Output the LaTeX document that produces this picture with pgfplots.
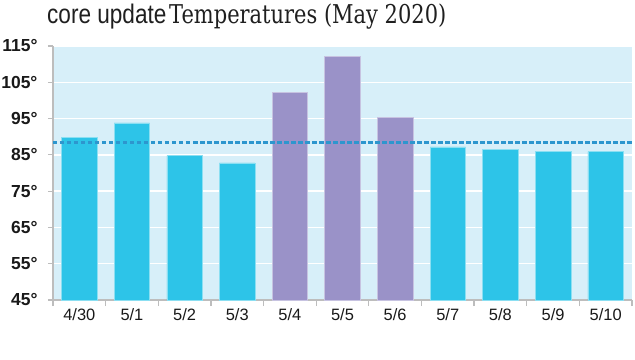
\documentclass[border=0pt]{standalone}
\usepackage{fontspec}
\setmainfont{DejaVu Serif}
\setsansfont{Liberation Sans}
\usepackage{pgfplots}
\pgfplotsset{compat=1.18}
\definecolor{bg}{HTML}{D7EFF9}
\definecolor{cyanbar}{HTML}{2DC4E8}
\definecolor{purplebar}{HTML}{9A92C8}
\definecolor{avgline}{HTML}{2D96CE}
\definecolor{axgray}{HTML}{BDBDBD}
\begin{document}
\begin{tikzpicture}[font=\sffamily]
\path[use as bounding box] (-53bp,-60bp) rectangle (582bp,300bp);
\node[anchor=base west, inner sep=0pt, text=black!88, xscale=0.84, font=\sffamily\fontsize{27}{30}\selectfont] at (-6bp,276bp) {core update};
\node[anchor=base west, inner sep=0pt, text=black!88, xscale=0.81, font=\rmfamily\fontsize{26}{30}\selectfont] at (116bp,276bp) {Temperatures (May 2020)};
\begin{axis}[
  at={(0,0)}, anchor=south west, scale only axis, width=579bp, height=254bp,
  xmin=-0.5, xmax=10.5, ymin=45, ymax=115,
  axis x line*=bottom, axis y line*=left,
  axis line style={axgray, line width=1.8bp, -},
  axis background/.style={fill=bg},
  ytick={45,55,...,115},
  yticklabel={\pgfmathprintnumber[assume math mode=true]{\tick}°},
  xtick={0,...,10},
  xticklabels={4/30,5/1,5/2,5/3,5/4,5/5,5/6,5/7,5/8,5/9,5/10},
  minor xtick={-0.5,0.5,...,10.5},
  tick align=outside,
  major tick length=5bp, minor tick length=6bp,
  tick style={axgray, line width=1.2bp},
  major x tick style={draw=none},
  ymajorgrids, major grid style={white, line width=1.3bp},
  yticklabel style={font=\sffamily\fontsize{17.5}{17}\selectfont\bfseries, text=black!90, xshift=-7bp},
  xticklabel style={font=\sffamily\fontsize{16.5}{17}\selectfont, text=black!90},
  clip=true,
]
\addplot[ybar, bar width=35.5bp, bar shift=0pt, fill=cyanbar, draw=cyanbar!55!white, line width=0.6bp]
  coordinates {(0,89.9) (1,93.8) (2,84.8) (3,82.8) (7,87.2) (8,86.6) (9,85.9) (10,85.9)};
\addplot[ybar, bar width=35.5bp, bar shift=0pt, fill=purplebar, draw=purplebar!55!white, line width=0.6bp]
  coordinates {(4,102.3) (5,112.2) (6,95.4)};
\addplot[avgline, line width=2.6bp, dash pattern=on 4.5bp off 2.5bp] coordinates {(-0.5,88.4) (10.5,88.4)};
\end{axis}
\end{tikzpicture}
\end{document}
